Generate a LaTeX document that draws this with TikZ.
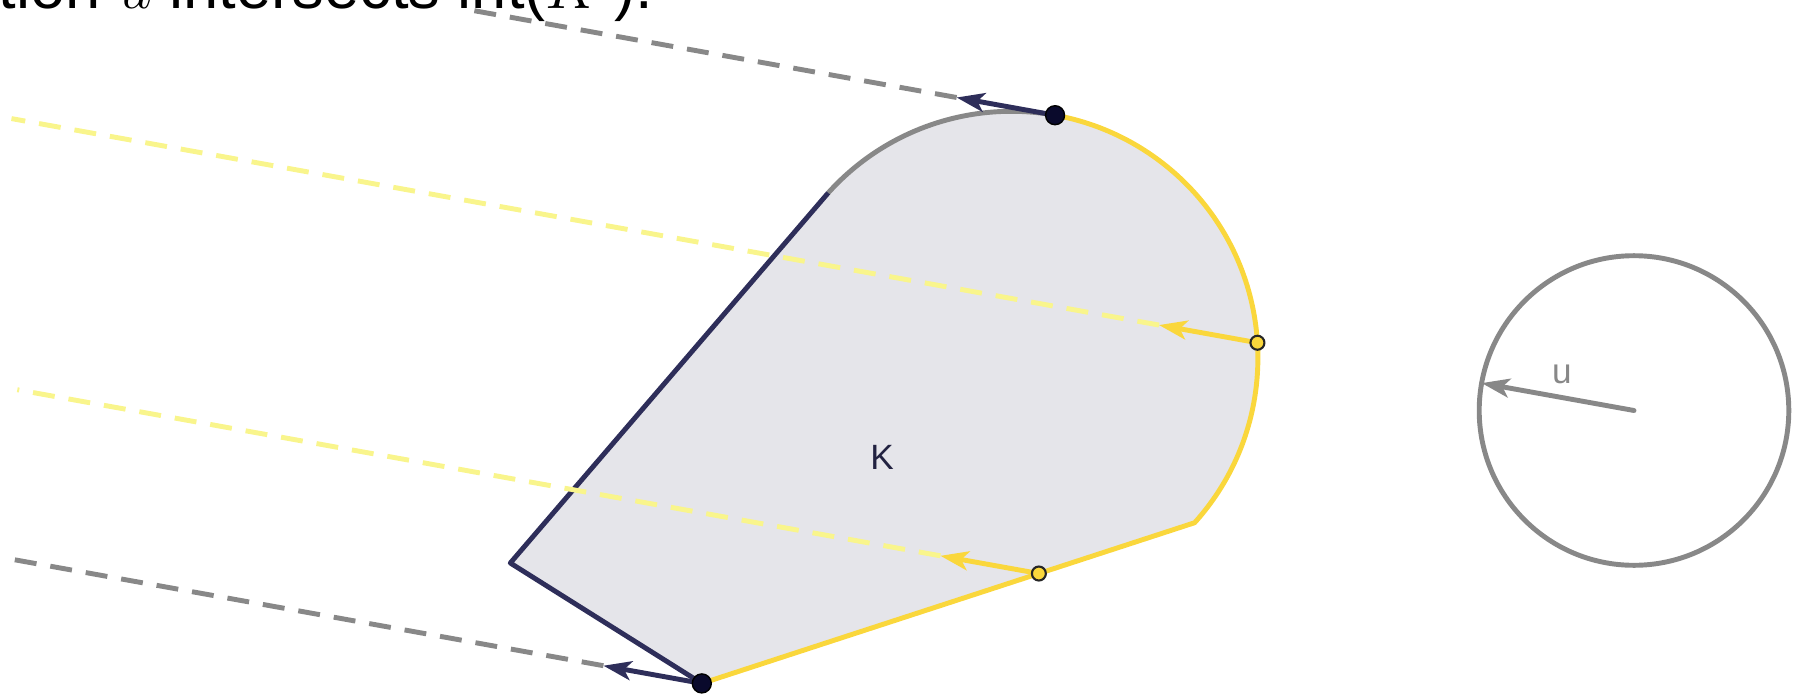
\documentclass[tikz,border=0pt]{standalone}
\usepackage{fontspec}
\setmainfont{Liberation Sans}
\usepackage{tikz}
\usetikzlibrary{calc,arrows.meta}
\definecolor{navyc}{HTML}{2E2E5A}
\definecolor{dotc}{HTML}{0A0A2C}
\definecolor{goldc}{HTML}{FAD73C}
\definecolor{paley}{HTML}{F9F58C}
\definecolor{greyc}{HTML}{888888}
\definecolor{bodyc}{HTML}{E5E5EA}
\tikzset{
  ar/.style={-{Stealth[length=2.8mm,width=1.9mm,inset=0.7mm]},line width=1.4pt},
  ray/.style={dash pattern=on 2.2mm off 1.4mm,line width=1.4pt},
  edge/.style={line width=1.4pt},
  bigdot/.style={circle,fill=dotc,draw=black,line width=0.4pt,inner sep=0pt,minimum size=1.9mm},
  smalldot/.style={circle,fill=goldc,draw=black!85,line width=0.6pt,inner sep=0pt,minimum size=1.4mm},
  lbl/.style={font=\fontsize{10}{12}\selectfont,inner sep=1pt}
}
\newcommand{\radK}{2.465}
\newcommand{\dirU}{169.8}
\begin{document}
\begin{tikzpicture}[line join=round]
\useasboundingbox (0,0) rectangle (17.98,6.95);
\clip (0,0) rectangle (17.98,6.95);
% the body K
\coordinate (c) at (10.114,3.372);
\coordinate (top) at ($(c)+(79.8:\radK)$);
\coordinate (rp) at ($(c)+(3.5:\radK)$);
\coordinate (cv) at ($(c)+(-42:\radK)$);
\coordinate (tg) at ($(c)+(138:\radK)$);
\coordinate (lv) at (5.103,1.320);
\coordinate (bv) at (7.018,0.116);
\coordinate (bp) at ($(bv)!0.684!(cv)$);
\fill[bodyc] (lv) -- (bv) -- (cv) arc[start angle=-42,end angle=138,radius=\radK] -- cycle;
\draw[edge,goldc] (bv) -- (cv) arc[start angle=-42,end angle=79.8,radius=\radK];
\draw[edge,greyc] (top) arc[start angle=79.8,end angle=138,radius=\radK];
\draw[edge,navyc] (tg) -- (lv) -- (bv);
\node[lbl,text=dotc!90] (k) at (8.82,2.375) {K};
% rays in direction u
\foreach \p/\len in {top/5.98,rp/12.66,bp/10.38,bv/6.99}{
  \coordinate (\p tip) at ($(\p)+(\dirU:1)$);
  \coordinate (\p end) at ($(\p)+(\dirU:\len)$);}
\draw[ray,greyc] (toptip) -- (topend);
\draw[ray,greyc] (bvtip) -- (bvend);
\draw[ray,paley] (rptip) -- (rpend);
\draw[ray,paley] (bptip) -- (bpend);
\draw[ar,navyc] (top) -- (toptip);
\draw[ar,navyc] (bv) -- (bvtip);
\draw[ar,goldc] (rp) -- (rptip);
\draw[ar,goldc] (bp) -- (bptip);
\node[bigdot] (d1) at (top) {};
\node[bigdot] (d2) at (bv) {};
\node[smalldot] (d3) at (rp) {};
\node[smalldot] (d4) at (bp) {};
% the direction u
\coordinate (uc) at (16.34,2.845);
\draw[edge,greyc] (uc) circle[radius=1.548];
\coordinate (uhead) at ($(uc)+(\dirU:1.548)$);
\draw[ar,greyc,line cap=round] (uc) -- (uhead);
\node[lbl,text=greyc] (u) at (15.62,3.21) {u};
\node[anchor=base west,inner sep=0pt,font=\fontsize{18}{22}\selectfont] (cap) at (-0.02,6.87) {tion $u$ intersects int($K'$).};
\end{tikzpicture}
\end{document}
